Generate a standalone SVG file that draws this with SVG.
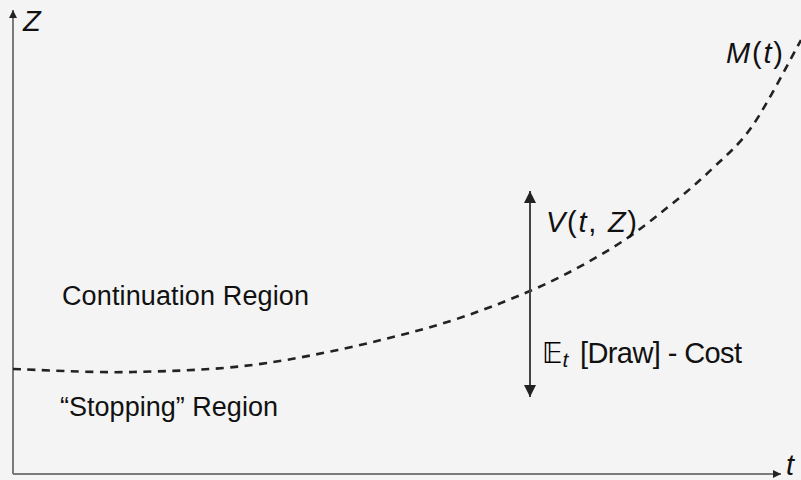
<svg xmlns="http://www.w3.org/2000/svg" width="801" height="480" viewBox="0 0 801 480">
  <style>
    .axis { stroke: #7a7a7a; stroke-width: 2; fill: none; }
    .curve { stroke: #222; stroke-width: 2.6; fill: none; stroke-dasharray: 8 6.5; }
    .gap { stroke: #444; stroke-width: 2; fill: none; }
    .lbl { font-family: "Liberation Sans", Arial, sans-serif; font-size: 27px; fill: #111; }
    .math { font-family: "Liberation Sans", Arial, sans-serif; font-size: 29px; fill: #111; }
    .it { font-style: italic; }
  </style>
  <defs>
    <marker id="axisHead" viewBox="0 0 10 10" refX="10" refY="5" markerWidth="9" markerHeight="8" markerUnits="userSpaceOnUse" orient="auto">
      <path d="M0,0 L10,5 L0,10 Z" fill="#222"/>
    </marker>
    <marker id="gapHead" viewBox="0 0 10 10" refX="10" refY="5" markerWidth="12" markerHeight="14" markerUnits="userSpaceOnUse" orient="auto">
      <path d="M0,0 L10,5 L0,10 Z" fill="#222"/>
    </marker>
  </defs>

  <rect width="801" height="480" fill="#f4f4f4"/>

  <g id="connectors">
    <!-- axes -->
    <line class="axis" x1="13" y1="474" x2="13" y2="10" marker-end="url(#axisHead)"/>
    <line class="axis" x1="13" y1="474" x2="781" y2="474" marker-end="url(#axisHead)"/>
    <!-- boundary M(t) -->
    <path class="curve" d="M13,369 C33,369.5 90.7,373 133,372 C175.3,371 219.2,370 267,363 C314.8,356 376.2,342 420,330 C463.8,318 498,304.7 530,291 C562,277.3 589,262 612,248 C635,234 651.2,220.3 668,207 C684.8,193.7 698.8,181.7 713,168 C727.2,154.3 738.5,146 753,125 C767.5,104 792.2,55.8 801,40"/>
    <!-- two-headed gap arrow -->
    <line class="gap" x1="530" y1="292" x2="530" y2="191" marker-end="url(#gapHead)"/>
    <line class="gap" x1="530" y1="292" x2="530" y2="397" marker-end="url(#gapHead)"/>
  </g>

  <g id="axis-z">
    <text class="math it" x="23" y="31">Z</text>
  </g>
  <g id="axis-t">
    <text class="math it" x="786" y="475" font-size="27">t</text>
  </g>
  <g id="label-m">
    <text class="math" x="726" y="63" textLength="57"><tspan class="it">M</tspan>(<tspan class="it">t</tspan>)</text>
  </g>
  <g id="label-v">
    <text class="math" x="546" y="232" textLength="91"><tspan class="it">V</tspan>(<tspan class="it">t</tspan>, <tspan class="it">Z</tspan>)</text>
  </g>
  <g id="label-draw">
    <text class="math" x="542" y="363"><tspan font-family="DejaVu Sans, sans-serif" font-size="28" fill="#000">𝔼</tspan><tspan class="it" font-size="21" dy="4">t</tspan></text>
    <text class="math" x="580" y="363" font-size="28" textLength="162">[Draw] - Cost</text>
  </g>
  <g id="region-continuation">
    <text class="lbl" x="62" y="305" textLength="247">Continuation Region</text>
  </g>
  <g id="region-stopping">
    <text class="lbl" x="60" y="416" textLength="218">“Stopping” Region</text>
  </g>
</svg>
